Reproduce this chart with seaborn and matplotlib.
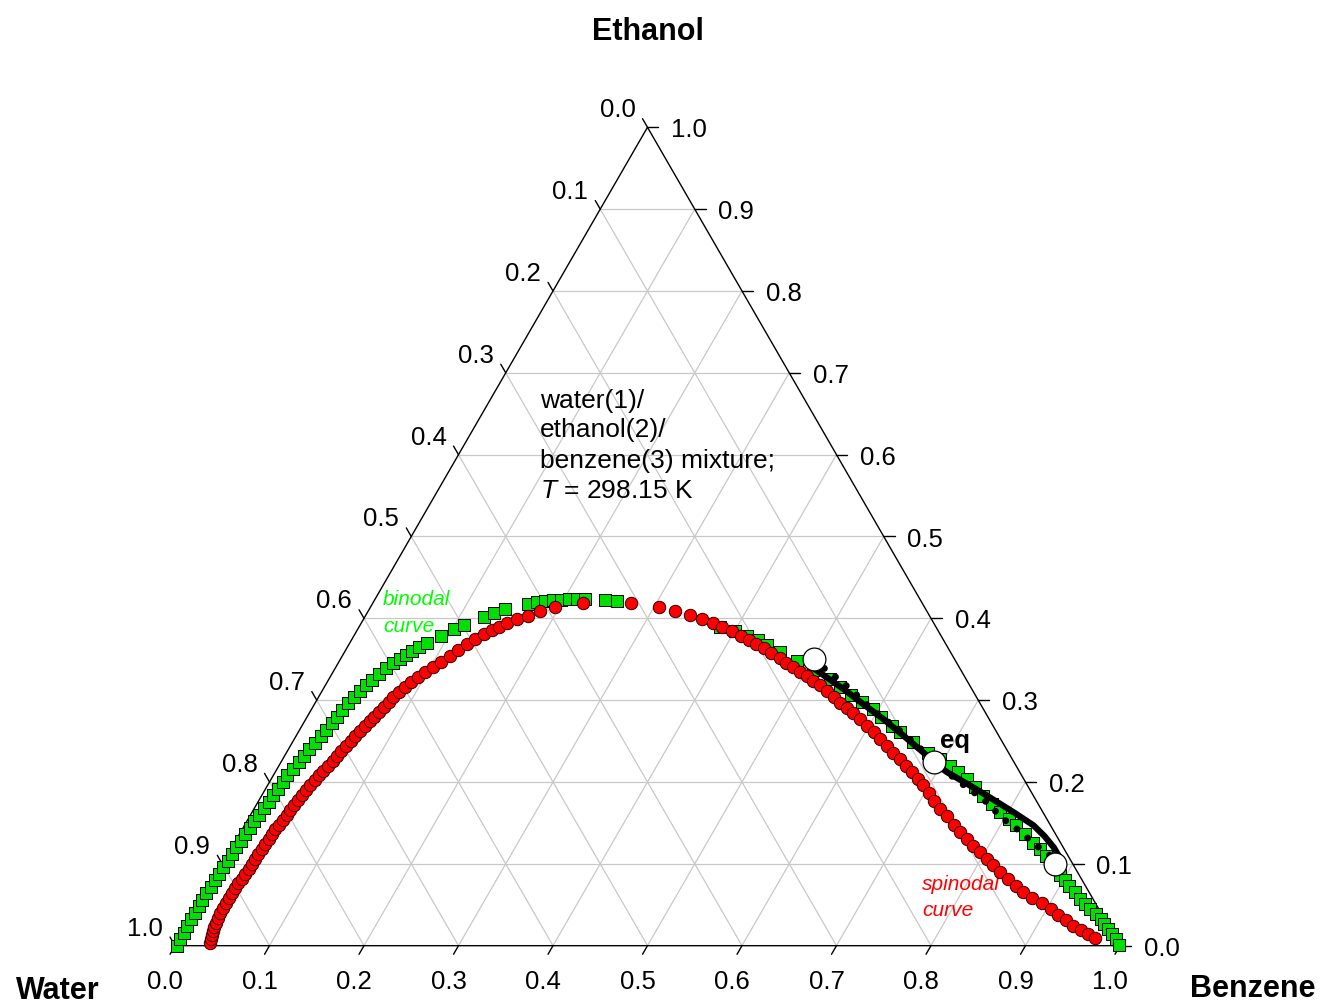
import matplotlib

matplotlib.use("Agg")
import matplotlib.pyplot as plt
import numpy as np
import pandas as pd
import seaborn as sns

# mole fractions (benzene = x3, ethanol = x2)
binodal_left_ethanol = [
    0.000, 0.008, 0.016, 0.024, 0.032, 0.040, 0.048, 0.056, 0.064, 0.072,
    0.080, 0.088, 0.096, 0.104, 0.112, 0.120, 0.128, 0.136, 0.144, 0.152,
    0.160, 0.168, 0.176, 0.184, 0.192, 0.200, 0.208, 0.216, 0.224, 0.232,
    0.240, 0.248, 0.256, 0.264, 0.272, 0.280, 0.288, 0.296, 0.304, 0.311,
    0.318, 0.325, 0.332, 0.339, 0.345, 0.350, 0.355, 0.360, 0.365, 0.370,
    0.378, 0.387, 0.392, 0.402, 0.406, 0.411, 0.418, 0.420, 0.421, 0.422,
    0.423, 0.424, 0.424, 0.424, 0.422, 0.421,
]
binodal_left_benzene = [
    0.002, 0.001, 0.001, 0.001, 0.001, 0.001, 0.001, 0.001, 0.001, 0.002,
    0.002, 0.003, 0.003, 0.004, 0.004, 0.005, 0.006, 0.006, 0.007, 0.008,
    0.009, 0.010, 0.011, 0.012, 0.013, 0.014, 0.015, 0.017, 0.019, 0.020,
    0.022, 0.024, 0.026, 0.028, 0.030, 0.031, 0.033, 0.035, 0.037, 0.040,
    0.043, 0.046, 0.050, 0.054, 0.058, 0.063, 0.067, 0.071, 0.076, 0.082,
    0.092, 0.102, 0.110, 0.126, 0.135, 0.144, 0.165, 0.173, 0.181, 0.189,
    0.197, 0.205, 0.213, 0.222, 0.244, 0.257,
]
binodal_right_ethanol = [
    0.390, 0.385, 0.379, 0.373, 0.367, 0.359, 0.348, 0.337, 0.326, 0.316,
    0.306, 0.298, 0.289, 0.279, 0.269, 0.261, 0.249, 0.236, 0.228, 0.220,
    0.212, 0.204, 0.194, 0.183, 0.173, 0.163, 0.155, 0.147, 0.137, 0.126,
    0.118, 0.110, 0.102, 0.094, 0.086, 0.080, 0.073, 0.065, 0.057, 0.051,
    0.045, 0.039, 0.033, 0.027, 0.020, 0.014, 0.008, 0.001,
]
binodal_right_benzene = [
    0.382, 0.400, 0.416, 0.430, 0.443, 0.461, 0.484, 0.507, 0.530, 0.546,
    0.562, 0.578, 0.594, 0.608, 0.624, 0.637, 0.657, 0.679, 0.696, 0.710,
    0.723, 0.736, 0.750, 0.764, 0.778, 0.792, 0.805, 0.817, 0.831, 0.845,
    0.856, 0.867, 0.877, 0.886, 0.894, 0.902, 0.910, 0.920, 0.929, 0.937,
    0.946, 0.955, 0.963, 0.970, 0.977, 0.985, 0.992, 0.999,
]

spinodal_left_ethanol = [
    0.003, 0.008, 0.013, 0.018, 0.023, 0.028, 0.034, 0.040, 0.046, 0.052,
    0.058, 0.064, 0.070, 0.076, 0.082, 0.088, 0.094, 0.100, 0.106, 0.112,
    0.118, 0.124, 0.130, 0.136, 0.142, 0.148, 0.154, 0.160, 0.166, 0.172,
    0.178, 0.184, 0.190, 0.196, 0.202, 0.208, 0.214, 0.220, 0.226, 0.232,
    0.238, 0.244, 0.250, 0.256, 0.262, 0.268, 0.274, 0.280, 0.286, 0.292,
    0.298, 0.304, 0.310, 0.316, 0.322, 0.328, 0.334, 0.340, 0.347, 0.354,
    0.361, 0.369, 0.375, 0.381, 0.386, 0.390, 0.394, 0.399, 0.403, 0.409,
    0.414, 0.419, 0.419,
]
spinodal_left_benzene = [
    0.036, 0.034, 0.033, 0.031, 0.030, 0.029, 0.029, 0.028, 0.028, 0.028,
    0.028, 0.028, 0.029, 0.029, 0.030, 0.030, 0.031, 0.031, 0.032, 0.032,
    0.033, 0.033, 0.034, 0.035, 0.035, 0.036, 0.037, 0.038, 0.039, 0.040,
    0.041, 0.042, 0.044, 0.045, 0.047, 0.048, 0.050, 0.052, 0.054, 0.055,
    0.057, 0.059, 0.061, 0.063, 0.065, 0.067, 0.069, 0.071, 0.073, 0.075,
    0.077, 0.079, 0.082, 0.085, 0.089, 0.093, 0.098, 0.103, 0.108, 0.114,
    0.119, 0.124, 0.130, 0.136, 0.142, 0.148, 0.154, 0.162, 0.172, 0.182,
    0.195, 0.222, 0.273,
]
spinodal_right_ethanol = [
    0.414, 0.409, 0.404, 0.399, 0.394, 0.389, 0.384, 0.379, 0.374, 0.369,
    0.364, 0.358, 0.352, 0.346, 0.340, 0.334, 0.329, 0.323, 0.318, 0.311,
    0.304, 0.297, 0.291, 0.284, 0.277, 0.269, 0.261, 0.253, 0.244, 0.236,
    0.228, 0.220, 0.212, 0.204, 0.196, 0.186, 0.177, 0.167, 0.158, 0.148,
    0.139, 0.130, 0.122, 0.114, 0.106, 0.098, 0.090, 0.082, 0.073, 0.065,
    0.058, 0.052, 0.045, 0.038, 0.031, 0.024, 0.019, 0.014, 0.009,
]
spinodal_right_benzene = [
    0.305, 0.325, 0.343, 0.358, 0.372, 0.384, 0.397, 0.409, 0.420, 0.430,
    0.441, 0.452, 0.464, 0.474, 0.484, 0.494, 0.504, 0.514, 0.524, 0.534,
    0.545, 0.555, 0.566, 0.576, 0.586, 0.598, 0.609, 0.620, 0.631, 0.642,
    0.653, 0.664, 0.674, 0.684, 0.694, 0.705, 0.715, 0.726, 0.738, 0.750,
    0.761, 0.773, 0.784, 0.795, 0.806, 0.817, 0.828, 0.841, 0.853, 0.865,
    0.878, 0.891, 0.904, 0.915, 0.927, 0.938, 0.949, 0.959, 0.969,
]

# solid and dotted curves between the equilibrium points
solid_ethanol = [0.350, 0.338, 0.314, 0.295, 0.277, 0.257, 0.236, 0.224, 0.212,
                 0.198, 0.181, 0.163, 0.147, 0.134, 0.120, 0.110, 0.100]
solid_benzene = [0.501, 0.508, 0.550, 0.581, 0.611, 0.642, 0.674, 0.691, 0.711,
                 0.739, 0.772, 0.806, 0.835, 0.853, 0.870, 0.880, 0.881]
dotted_ethanol = [0.350, 0.336, 0.324, 0.310, 0.295, 0.279, 0.269, 0.250, 0.237,
                  0.224, 0.210, 0.196, 0.179, 0.155, 0.143, 0.122, 0.110, 0.100]
dotted_benzene = [0.501, 0.522, 0.542, 0.563, 0.584, 0.608, 0.626, 0.655, 0.674,
                  0.691, 0.714, 0.737, 0.766, 0.799, 0.819, 0.851, 0.871, 0.881]

eq_ethanol = [0.350, 0.224, 0.100]
eq_benzene = [0.501, 0.691, 0.881]

tick_values = [i / 10 for i in range(11)]
tick_labels = [f"{v:.1f}" for v in tick_values]

H = np.sqrt(3) / 2


def to_xy(benzene, ethanol):
    b = np.asarray(benzene, dtype=float)
    e = np.asarray(ethanol, dtype=float)
    return b + e / 2, e * H


def frame(benzene, ethanol):
    x, y = to_xy(benzene, ethanol)
    return pd.DataFrame({"x": x, "y": y})


sns.set_style("white")
plt.rcParams["font.family"] = ["Liberation Sans", "DejaVu Sans"]
plt.rcParams["text.color"] = "black"
plt.rcParams["mathtext.fontset"] = "custom"
plt.rcParams["mathtext.it"] = "Liberation Sans:italic"
plt.rcParams["mathtext.rm"] = "Liberation Sans"

fig = plt.figure(figsize=(13.22, 10.03), dpi=100)
ax = fig.add_axes([0, 0, 1, 1])
ax.axis("off")

# ------- grid -------
grid_kw = dict(color="#c8c8c8", lw=0.9, zorder=1)
for v in tick_values[1:-1]:
    ax.plot(*to_xy([0, 1 - v], [v, v]), **grid_kw)          # ethanol
    ax.plot(*to_xy([v, v], [0, 1 - v]), **grid_kw)          # benzene
    ax.plot(*to_xy([0, 1 - v], [1 - v, 0]), **grid_kw)      # water

ax.plot(*to_xy([0, 1, 0, 0], [0, 0, 1, 0]), color="black", lw=1.0, zorder=2)

# ------- ticks and labels -------
L = 0.0105
tick_kw = dict(color="black", lw=1.0, zorder=2)
lab_kw = dict(textcoords="offset points", ha="center", va="center",
              fontsize=18.5, color="black")
for v, lab in zip(tick_values, tick_labels):
    # benzene (bottom)
    x, y = to_xy(v, 0)
    ax.plot([x, x - 0.5 * L], [y, y - H * L], **tick_kw)
    ax.annotate(lab, (x, y), xytext=(-7, -25.5), **lab_kw)
    # ethanol (right)
    x, y = to_xy(1 - v, v)
    ax.plot([x, x + 1.1 * L], [y, y], **tick_kw)
    ax.annotate(lab, (x, y), xytext=(30, -1.5), **lab_kw)
    # water (left)
    x, y = to_xy(0, 1 - v)
    ax.plot([x, x - 0.5 * L], [y, y + H * L], **tick_kw)
    ax.annotate(lab, (x, y), xytext=(-21.5, 13), **lab_kw)

title_kw = dict(fontsize=22, fontweight="bold", ha="center", va="center", color="black")
ax.text(0.5005, 0.968, "Ethanol", **title_kw)
ax.text(-0.1238, -0.0465, "Water", **title_kw)
ax.text(1.1407, -0.0445, "Benzene", **title_kw)

# ------- data -------
binodal = pd.concat([
    frame(binodal_left_benzene, binodal_left_ethanol),
    frame(binodal_right_benzene, binodal_right_ethanol),
])
spinodal = pd.concat([
    frame(spinodal_left_benzene, spinodal_left_ethanol),
    frame(spinodal_right_benzene, spinodal_right_ethanol),
])

sns.scatterplot(data=binodal, x="x", y="y", marker="s", s=68, color="#00e000",
                edgecolor="black", linewidth=0.7, ax=ax, zorder=3)

sns.scatterplot(data=spinodal, x="x", y="y", marker="o", s=80, color="#ff0000",
                edgecolor="#300000", linewidth=0.7, ax=ax, zorder=4)

dotted = frame(dotted_benzene, dotted_ethanol)
ax.plot(dotted["x"], dotted["y"], color="black", lw=5,
        linestyle=(0, (0.01, 2.0)), dash_capstyle="round", zorder=5)

solid = frame(solid_benzene, solid_ethanol)
sns.lineplot(data=solid, x="x", y="y", sort=False, estimator=None,
             color="black", linewidth=4.5, ax=ax, zorder=6)

sns.scatterplot(data=frame(eq_benzene, eq_ethanol), x="x", y="y", marker="o", s=270,
                color="white", edgecolor="black", linewidth=0.9, ax=ax, zorder=7)

ax.set_xlim(-0.1852, 1.2138)
ax.set_ylim(-0.0596, 1.0018)
ax.set_xlabel("")
ax.set_ylabel("")

# ------- annotations -------
info = ["water(1)/", "ethanol(2)/", "benzene(3) mixture;", r"$T$ = 298.15 K"]
for txt, y in zip(info, [0.5775, 0.5468, 0.5140, 0.4823]):
    ax.text(0.3862, y, txt, fontsize=19, ha="left", va="center", zorder=8)

ax.text(0.2201, 0.3669, "binodal", color="#00ff00", fontsize=15, style="italic", va="center")
ax.text(0.2201, 0.3383, "curve", color="#00ff00", fontsize=15, style="italic", va="center")
ax.text(0.7905, 0.0663, "spinodal", color="#ff0000", fontsize=15, style="italic", va="center")
ax.text(0.7905, 0.0378, "curve", color="#ff0000", fontsize=15, style="italic", va="center")
ax.text(0.8254, 0.2177, "eq", fontsize=18.5, fontweight="bold", ha="center", va="center", zorder=8)

fig.savefig("out.png", dpi=100)
